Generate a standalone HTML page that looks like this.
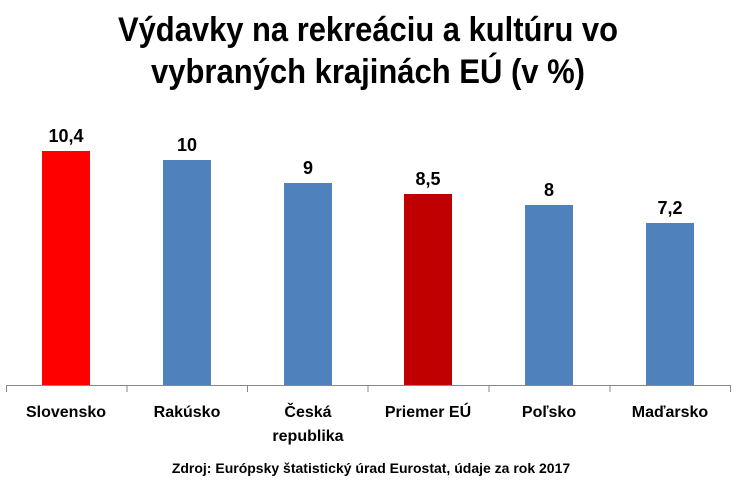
<!DOCTYPE html>
<html><head><meta charset="utf-8"><style>html,body{margin:0;padding:0;background:#fff}</style></head>
<body>
<svg width="742" height="490" xmlns="http://www.w3.org/2000/svg">
<rect width="742" height="490" fill="#fff"/>
<g font-family="'Liberation Sans Narrow','Liberation Sans',sans-serif" font-weight="bold" fill="#000" text-anchor="middle">
<text x="368" y="41" font-size="34" textLength="500" lengthAdjust="spacingAndGlyphs">Výdavky na rekreáciu a kultúru vo</text>
<text x="368" y="83" font-size="34" textLength="434" lengthAdjust="spacingAndGlyphs">vybraných krajinách EÚ (v %)</text>
<text x="66" y="142" font-size="18">10,4</text>
<text x="187" y="151" font-size="18">10</text>
<text x="308" y="174" font-size="18">9</text>
<text x="428" y="185" font-size="18">8,5</text>
<text x="549" y="196" font-size="18">8</text>
<text x="670" y="214" font-size="18">7,2</text>
</g>
<rect x="42" y="151" width="48" height="234" fill="#FF0000"/>
<rect x="163" y="160" width="48" height="225" fill="#4F81BD"/>
<rect x="284" y="183" width="48" height="202" fill="#4F81BD"/>
<rect x="404" y="194" width="48" height="191" fill="#C00000"/>
<rect x="525" y="205" width="48" height="180" fill="#4F81BD"/>
<rect x="646" y="223" width="48" height="162" fill="#4F81BD"/>
<g stroke="#888" stroke-width="1">
<line x1="6" y1="385.5" x2="731" y2="385.5"/>
<line x1="6.5" y1="385" x2="6.5" y2="392"/>
<line x1="127" y1="385" x2="127" y2="392"/>
<line x1="247.5" y1="385" x2="247.5" y2="392"/>
<line x1="368" y1="385" x2="368" y2="392"/>
<line x1="489" y1="385" x2="489" y2="392"/>
<line x1="610" y1="385" x2="610" y2="392"/>
<line x1="730.5" y1="385" x2="730.5" y2="392"/>
</g>
<g font-family="'Liberation Sans',sans-serif" font-weight="bold" font-size="16" fill="#000" text-anchor="middle">
<text x="66" y="417">Slovensko</text>
<text x="187" y="417">Rakúsko</text>
<text x="308" y="417">Česká</text>
<text x="308" y="441">republika</text>
<text x="428" y="417">Priemer EÚ</text>
<text x="549" y="417">Poľsko</text>
<text x="670" y="417">Maďarsko</text>
<text x="371" y="473" font-size="14">Zdroj: Európsky štatistický úrad Eurostat, údaje za rok 2017</text>
</g>
</svg>
</body></html>
